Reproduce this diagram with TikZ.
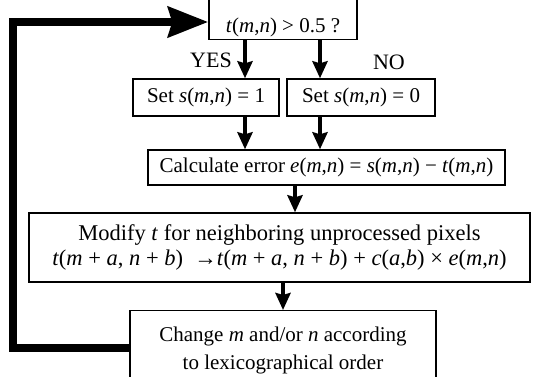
\documentclass[tikz,border=0pt]{standalone}
\usepackage{fontspec}
\setmainfont{Liberation Serif}
\usetikzlibrary{arrows.meta}

\newcommand{\vi}[1]{\textit{#1}}

\tikzset{
  boite/.style={draw, line width=1.4pt, inner sep=0pt, align=center,
    font=\fontsize{21}{25}\selectfont},
  fleche/.style={line width=4pt, -{Stealth[length=17pt,width=15pt,inset=2pt]}},
  boucle/.style={line width=8.5pt, -{Stealth[length=40pt,width=30pt,inset=4pt]}},
  etiquette/.style={font=\fontsize{22}{24}\selectfont}
}

\begin{document}
\begin{tikzpicture}[x=1pt,y=-1pt]

% Cadre
\useasboundingbox (0,0) rectangle (544,377);

% Test
\node[boite, minimum width=148pt, text height=34pt, text depth=7pt, anchor=south] (test) at (283,40)
  {\vi{t}(\vi{m},\vi{n}) > 0.5 ?};

% Affectations
\node[boite, minimum width=146pt, minimum height=37pt] (set1) at (206,97.5)
  {Set \vi{s}(\vi{m},\vi{n}) = 1};
\node[boite, minimum width=148pt, minimum height=37pt] (set0) at (361,97.5)
  {Set \vi{s}(\vi{m},\vi{n}) = 0};

% Erreur
\node[boite, minimum width=357pt, minimum height=35pt] (calc) at (326.5,167.5)
  {Calculate error \vi{e}(\vi{m},\vi{n}) = \vi{s}(\vi{m},\vi{n}) − \vi{t}(\vi{m},\vi{n})};

% Diffusion
\node[boite, minimum width=501pt, minimum height=69pt, font=\fontsize{22.5}{25}\selectfont] (modif) at (279.5,247.5)
  {Modify \vi{t} for neighboring unprocessed pixels\\
   \vi{t}(\vi{m} + \vi{a}, \vi{n} + \vi{b})\ \ →\vi{t}(\vi{m} + \vi{a}, \vi{n} + \vi{b}) + \vi{c}(\vi{a},\vi{b}) × \vi{e}(\vi{m},\vi{n})};

% Parcours
\node[boite, minimum width=306pt, minimum height=80pt, anchor=north] (chg) at (283,310)
  {Change \vi{m} and/or \vi{n} according\\[3pt] to lexicographical order};

% Reperes
\coordinate (oui) at (245,0);
\coordinate (non) at (320,0);
\coordinate (milieu) at (295,0);
\coordinate (bas) at (283,0);
\coordinate (coin) at (13,22);

% Fleches
\draw[fleche] (test.south -| oui) -- (set1.north -| oui);
\draw[fleche] (test.south -| non) -- (set0.north -| non);
\draw[fleche] (set1.south -| oui) -- (calc.north -| oui);
\draw[fleche] (set0.south -| non) -- (calc.north -| non);
\draw[fleche] (calc.south -| milieu) -- (modif.north -| milieu);
\draw[fleche] (modif.south -| bas) -- (chg.north -| bas);

% Etiquettes
\node[etiquette] (yes) at (211,60) {YES};
\node[etiquette] (no) at (389,62) {NO};

% Boucle
\draw[boucle] (chg.west |- 0,348) -| (coin) -- (test.west |- coin);

\end{tikzpicture}
\end{document}
